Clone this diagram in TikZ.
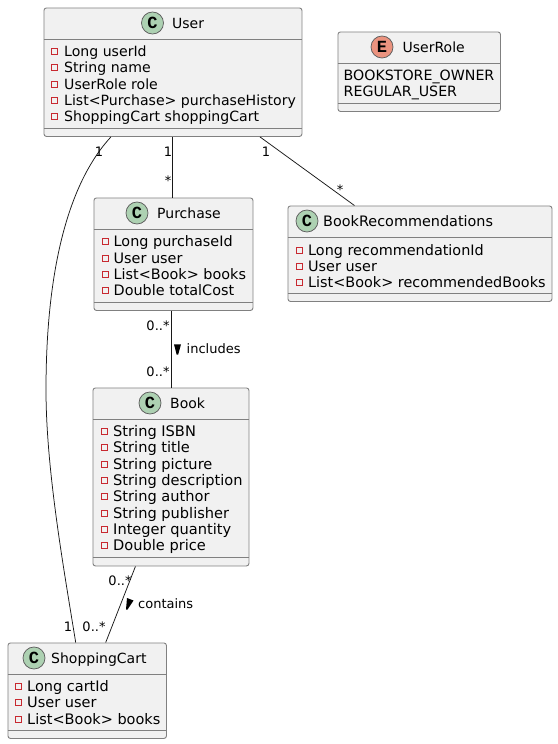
\documentclass[tikz,border=0pt]{standalone}
\usepackage{fontspec}
\setmainfont{DejaVu Sans}
\newfontfamily\spotfont{Liberation Mono}
\definecolor{boxfill}{HTML}{F1F1F1}
\definecolor{boxline}{HTML}{808080}
\definecolor{edgecol}{HTML}{181818}
\definecolor{markred}{HTML}{C82930}
\definecolor{spotgreen}{HTML}{ADD1B2}
\definecolor{spotred}{HTML}{EB937F}
\tikzset{
  classbox/.style={draw=boxline,fill=boxfill,line width=0.9pt,rounded corners=2.5pt,inner sep=0pt,anchor=north west},
  rowline/.style={draw=boxline,line width=0.9pt},
  spot/.style={circle,draw=edgecol!70,line width=0.75pt,fill=spotgreen,minimum size=22pt,inner sep=0pt,font=\spotfont\bfseries\fontsize{17}{17}\selectfont},
  titletext/.style={anchor=base west,inner sep=0pt,font=\fontsize{14}{16}\selectfont},
  rowfont/.style={font=\fontsize{#1}{16}\selectfont},
  member/.style={anchor=base west,inner sep=0pt,yshift=-5pt},
  markbox/.style={rectangle,draw=markred,line width=0.9pt,minimum width=6pt,minimum height=6pt,inner sep=0pt,fill=boxfill},
  card/.style={inner sep=0pt,font=\fontsize{13}{13}\selectfont},
  edgeline/.style={draw=edgecol,line width=0.75pt}
}
\begin{document}
\begin{tikzpicture}[x=1pt,y=-1pt]
  \useasboundingbox (0,0) rectangle (557,744);

  % class boxes
  \node[classbox,minimum width=258pt,minimum height=128.5pt] (user) at (43.5,7.5) {};
  \node[classbox,minimum width=162.5pt,minimum height=79.5pt] (role) at (337.5,31.5) {};
  \node[classbox,minimum width=159pt,minimum height=112.5pt] (purchase) at (93.5,197.5) {};
  \node[classbox,minimum width=264pt,minimum height=95.5pt] (recs) at (287.5,205.5) {};
  \node[classbox,minimum width=156pt,minimum height=178pt] (book) at (92.5,387.5) {};
  \node[classbox,minimum width=158.5pt,minimum height=95.5pt] (cart) at (7.5,642.5) {};

  % separators
  \draw[rowline] (43.5,39.5) -- (301.5,39.5) (43.5,128) -- (301.5,128);
  \draw[rowline] (337.5,63.5) -- (500,63.5) (337.5,103) -- (500,103);
  \draw[rowline] (93.5,229) -- (252.5,229) (93.5,302) -- (252.5,302);
  \draw[rowline] (287.5,237) -- (551.5,237) (287.5,293) -- (551.5,293);
  \draw[rowline] (92.5,419) -- (248.5,419) (92.5,557) -- (248.5,557);
  \draw[rowline] (7.5,674.5) -- (166,674.5) (7.5,730) -- (166,730);

  % headers
  \node[spot] (userspot) at (152.5,23) {C};
  \node[titletext] (usertitle) at (172,28) {User};
  \node[spot,fill=spotred] (rolespot) at (382,47) {E};
  \node[titletext] (roletitle) at (402.5,52) {UserRole};
  \node[spot] (purchasespot) at (137,213) {C};
  \node[titletext] (purchasetitle) at (157,218) {Purchase};
  \node[spot] (recsspot) at (307,221) {C};
  \node[titletext,rowfont=14.4] (recstitle) at (323,226) {BookRecommendations};
  \node[spot] (bookspot) at (150,403) {C};
  \node[titletext] (booktitle) at (170,408) {Book};
  \node[spot] (cartspot) at (34,658) {C};
  \node[titletext] (carttitle) at (51,663) {ShoppingCart};

  % members
  \foreach \ypos/\txt in {51/Long userId,67.5/String name,84/UserRole role,100/List<Purchase> purchaseHistory,116/ShoppingCart shoppingCart} {
    \node[markbox] (umark\ypos) at (54.5,\ypos) {};
    \node[member,rowfont=14.1] (urow\ypos) at (64,\ypos) {\txt};
  }
  \foreach \ypos/\txt in {75/BOOKSTORE\_OWNER,91/REGULAR\_USER}
    \node[member,rowfont=14.2] (rrow\ypos) at (343.5,\ypos) {\txt};
  \foreach \ypos/\txt in {241/Long purchaseId,258/User user,274/List<Book> books,290/Double totalCost} {
    \node[markbox] (pmark\ypos) at (105,\ypos) {};
    \node[member,rowfont=14.4] (prow\ypos) at (113.5,\ypos) {\txt};
  }
  \foreach \ypos/\txt in {250/Long recommendationId,266/User user,282/List<Book> recommendedBooks} {
    \node[markbox] (bmark\ypos) at (299,\ypos) {};
    \node[member,rowfont=14.4] (brow\ypos) at (308,\ypos) {\txt};
  }
  \foreach \ypos/\txt in {431/String ISBN,447/String title,464/String picture,480/String description,496/String author,513/String publisher,529/Integer quantity,545/Double price} {
    \node[markbox] (kmark\ypos) at (104,\ypos) {};
    \node[member,rowfont=14.6] (krow\ypos) at (113,\ypos) {\txt};
  }
  \foreach \ypos/\txt in {686/Long cartId,702/User user,719/List<Book> books} {
    \node[markbox] (cmark\ypos) at (18.5,\ypos) {};
    \node[member,rowfont=14.5] (crow\ypos) at (27,\ypos) {\txt};
  }

  % connectors
  \draw[edgeline] ([xshift=-0.5pt]user.south) -- ([xshift=-1pt]purchase.north);
  \draw[edgeline] ([xshift=87pt]user.south) -- ([xshift=-65.5pt]recs.north);
  \draw[edgeline] ([xshift=-62pt]user.south) .. controls (85,165) and (46,230) .. (46,390)
     .. controls (46,470) and (64,570) .. ([xshift=-11.5pt]cart.north);
  \draw[edgeline] ([xshift=-2pt]purchase.south) -- ([xshift=0.5pt]book.north);
  \draw[edgeline] ([xshift=-35.5pt]book.south) -- ([xshift=18.5pt]cart.north);

  % labels
  \node[card] (c1) at (99,152) {1};
  \node[card] (c2) at (168,152) {1};
  \node[card] (c3) at (168,181) {*};
  \node[card] (c4) at (266,152) {1};
  \node[card] (c5) at (340,189.5) {*};
  \node[card] (c6) at (158,325.5) {0..*};
  \node[card] (c7) at (158,372) {0..*};
  \node[card] (c8) at (68,627) {1};
  \node[card] (c9) at (94,627) {0..*};
  \node[card] (c10) at (120,581) {0..*};
  \node[card,anchor=base west] (includes) at (186.5,353) {includes};
  \node[card,anchor=base west] (contains) at (138,608) {contains};
  \fill (174,344.3) -- (181,344.3) -- (178.2,354.5) -- (176.6,354.5) -- cycle;
  \fill (127,598) -- (133.5,600.5) -- (127.5,609.5) -- (126,609.5) -- cycle;
\end{tikzpicture}
\end{document}
